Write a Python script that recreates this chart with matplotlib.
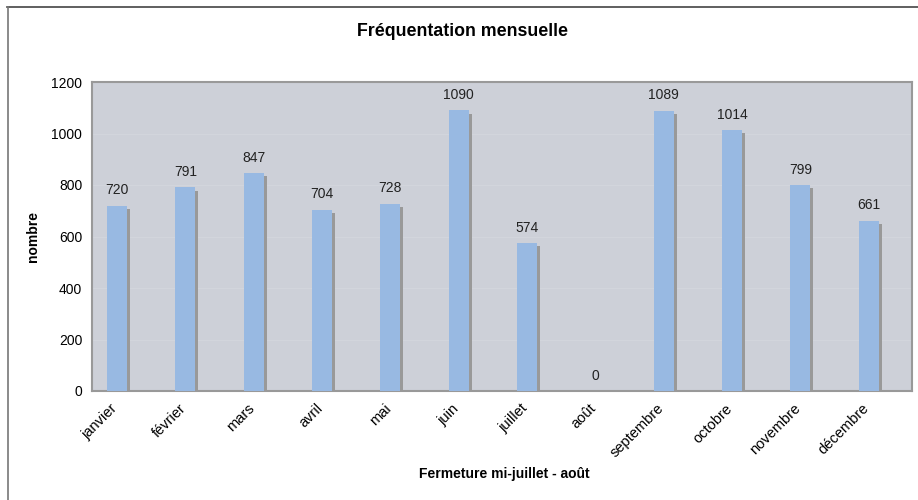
import numpy as np
import matplotlib.pyplot as plt
import matplotlib.patheffects as pe

plt.rcParams['font.family'] = ['Liberation Sans', 'DejaVu Sans']

# Données
mois = ["janvier", "février", "mars", "avril", "mai", "juin",
        "juillet", "août", "septembre", "octobre", "novembre", "décembre"]
frequentation = [720, 791, 847, 704, 728, 1090, 574, 0, 1089, 1014, 799, 661]

titre = "Fréquentation mensuelle"
label_x = "Fermeture mi-juillet - août"
label_y = "nombre"

fig = plt.figure(figsize=(9.18, 5.0), dpi=100)

# cadre extérieur (haut + gauche visibles)
fig.add_artist(plt.Line2D([7/918, 1.0], [1 - 7/500, 1 - 7/500], color='#444444', lw=1.2,
                          transform=fig.transFigure))
fig.add_artist(plt.Line2D([8/918, 8/918], [0.0, 1 - 7/500], color='#777777', lw=1.2,
                          transform=fig.transFigure))

ax = fig.add_axes([92/918, 1 - 391/500, 820/918, 309/500])
ax.set_facecolor('#CDD0D8')

x = np.arange(len(mois))
barres = ax.bar(x - 0.135, frequentation, width=0.29, color='#98B9E2', zorder=3)
for b in barres:
    b.set_path_effects([pe.SimplePatchShadow(offset=(2.3, -2.3), shadow_rgbFace='#999999', alpha=1.0),
                        pe.Normal()])

for xi, v in zip(x, frequentation):
    ax.annotate(str(v), (xi - 0.135, v), xytext=(0, 6), textcoords='offset points',
                ha='center', va='bottom', fontsize=10, color='#222222')

ax.set_xlim(-0.5, len(mois) - 0.5)
ax.set_ylim(0, 1200)
ax.set_yticks(np.arange(0, 1201, 200))
ax.yaxis.grid(True, color='#D2D5DC', lw=0.8, zorder=0)
ax.set_axisbelow(True)

# étiquettes alignées sous les barres
ax.set_xticks(x - 0.16)
ax.set_xticklabels(mois, rotation=45, ha='right', va='center', rotation_mode='anchor', fontsize=10.5)
ax.tick_params(axis='x', length=0, pad=11)
ax.tick_params(axis='y', length=0, pad=7, labelsize=10)

for s in ax.spines.values():
    s.set_color('#999999')
    s.set_linewidth(1.5)

fig.text(463/918, 1 - 31/500, titre, ha='center', va='center', fontsize=12.8, fontweight='bold')
fig.text(504/918, 1 - 474/500, label_x, ha='center', va='center', fontsize=10, fontweight='bold')
fig.text(33/918, 1 - 237/500, label_y, ha='center', va='center', rotation=90, fontsize=10, fontweight='bold')

fig.savefig("out.png", dpi=100)
